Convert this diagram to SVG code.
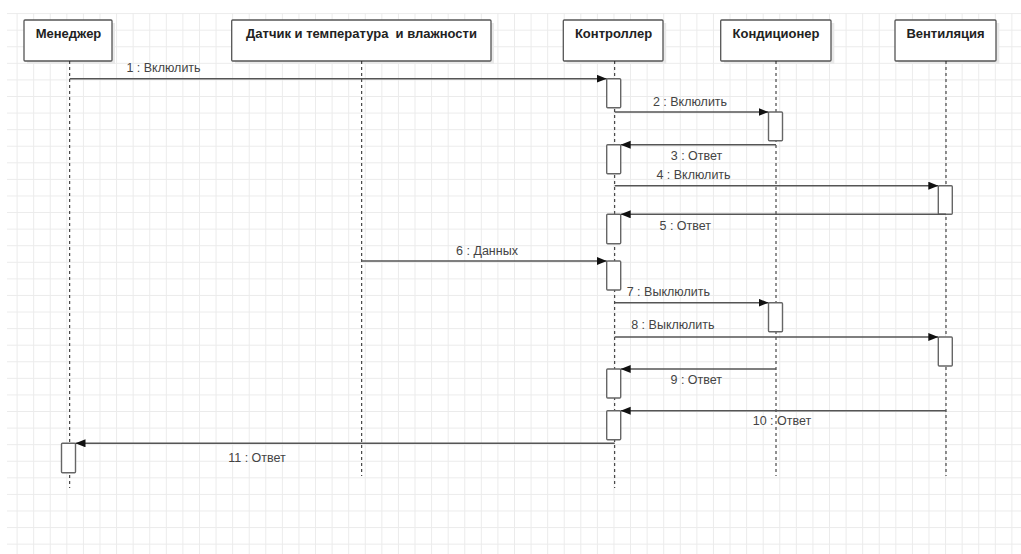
<svg xmlns="http://www.w3.org/2000/svg" width="1021" height="554" viewBox="0 0 1021 554">
<style>
.head{fill:#fff;stroke:#555;stroke-width:1.3}
.shadow{fill:#e9e9e9}
.title{font-family:"Liberation Sans",Arial,sans-serif;font-size:13px;font-weight:bold;fill:#222;text-anchor:middle}
.life{stroke:#222;stroke-width:1;stroke-dasharray:3,3;fill:none}
.act{fill:#fff;stroke:#666;stroke-width:1.4}
.msg{stroke:#555;stroke-width:1.4;fill:none;marker-end:url(#ah)}
.lbl{font-family:"Liberation Sans",Arial,sans-serif;font-size:12.5px;fill:#444;text-anchor:middle}
</style>
<defs>
<pattern id="grid" patternUnits="userSpaceOnUse" x="16.6" y="13.1" width="16.58" height="16.58">
<path d="M0,0.5 H16.58 M0.5,0 V16.58" stroke="#ebebeb" stroke-width="1" fill="none"/>
</pattern>
<marker id="ah" markerUnits="userSpaceOnUse" markerWidth="11" markerHeight="9" refX="10" refY="4" orient="auto">
<path d="M0,0 L10,4 L0,8 z" fill="#111"/>
</marker>
</defs>
<rect width="1021" height="554" fill="#fff"/>
<rect x="7" y="13" width="1014" height="541" fill="url(#grid)"/>

<g id="manager">
<rect class="shadow" x="27" y="23" width="88" height="41"/>
<rect class="head" x="24" y="20" width="88" height="41" rx="1"/>
<text class="title" x="68.5" y="38">Менеджер</text>
<line class="life" x1="69.7" y1="61" x2="69.7" y2="488"/>
<rect class="act" x="61.5" y="443.3" width="14" height="29.4" rx="1"/>
</g>

<g id="sensor">
<rect class="shadow" x="235" y="23" width="259" height="41"/>
<rect class="head" x="231.7" y="20" width="259.3" height="41" rx="1"/>
<text class="title" x="361.5" y="38" xml:space="preserve">Датчик и температура  и влажности</text>
<line class="life" x1="361.7" y1="61" x2="361.7" y2="476"/>
</g>

<g id="controller">
<rect class="shadow" x="566.5" y="23" width="99.7" height="41"/>
<rect class="head" x="563.3" y="20" width="99.7" height="41" rx="1"/>
<text class="title" x="613.5" y="38">Контроллер</text>
<line class="life" x1="614.7" y1="61" x2="614.7" y2="488"/>
<rect class="act" x="606.7" y="78.7" width="14" height="29" rx="1"/>
<rect class="act" x="606.7" y="144.7" width="14" height="29" rx="1"/>
<rect class="act" x="606.7" y="214.3" width="14" height="29.4" rx="1"/>
<rect class="act" x="606.7" y="261" width="14" height="29" rx="1"/>
<rect class="act" x="606.7" y="369" width="14" height="29" rx="1"/>
<rect class="act" x="606.7" y="410.7" width="14" height="29" rx="1"/>
</g>

<g id="conditioner">
<rect class="shadow" x="724" y="23" width="110.3" height="41"/>
<rect class="head" x="720.7" y="20" width="110.3" height="41" rx="1"/>
<text class="title" x="776" y="38">Кондиционер</text>
<line class="life" x1="776" y1="61" x2="776" y2="476"/>
<rect class="act" x="768.5" y="112" width="14" height="28.7" rx="1"/>
<rect class="act" x="768.5" y="302.7" width="14" height="29" rx="1"/>
</g>

<g id="ventilation">
<rect class="shadow" x="898.3" y="23" width="101" height="41"/>
<rect class="head" x="895" y="20" width="101" height="41" rx="1"/>
<text class="title" x="945.5" y="38">Вентиляция</text>
<line class="life" x1="946" y1="61" x2="946" y2="476"/>
<rect class="act" x="938.3" y="185.7" width="14" height="28.6" rx="1"/>
<rect class="act" x="938.3" y="337" width="14" height="29" rx="1"/>
</g>

<g id="connectors">
<line class="msg" x1="69.7" y1="78.7" x2="606.7" y2="78.7"/>
<text class="lbl" x="163.5" y="71.5">1 : Вклюлить</text>
<line class="msg" x1="614.7" y1="112" x2="768.5" y2="112"/>
<text class="lbl" x="690" y="106">2 : Вклюлить</text>
<line class="msg" x1="776" y1="144.7" x2="620.7" y2="144.7"/>
<text class="lbl" x="696.5" y="159.5">3 : Ответ</text>
<line class="msg" x1="614.7" y1="185.7" x2="938.3" y2="185.7"/>
<text class="lbl" x="693.5" y="178.8">4 : Вклюлить</text>
<line class="msg" x1="946" y1="214.3" x2="620.7" y2="214.3"/>
<text class="lbl" x="685.3" y="230.2">5 : Ответ</text>
<line class="msg" x1="361.7" y1="261" x2="606.7" y2="261"/>
<text class="lbl" x="487" y="255.2">6 : Данных</text>
<line class="msg" x1="614.7" y1="302.7" x2="768.5" y2="302.7"/>
<text class="lbl" x="668.3" y="295.5">7 : Выклюлить</text>
<line class="msg" x1="614.7" y1="337" x2="938.3" y2="337"/>
<text class="lbl" x="672.8" y="329.2">8 : Выклюлить</text>
<line class="msg" x1="776" y1="369" x2="620.7" y2="369"/>
<text class="lbl" x="696.3" y="383.8">9 : Ответ</text>
<line class="msg" x1="946" y1="410.7" x2="620.7" y2="410.7"/>
<text class="lbl" x="782" y="424.5">10 : Ответ</text>
<line class="msg" x1="614.7" y1="443.3" x2="75.5" y2="443.3"/>
<text class="lbl" x="257" y="462.2">11 : Ответ</text>
</g>
</svg>
